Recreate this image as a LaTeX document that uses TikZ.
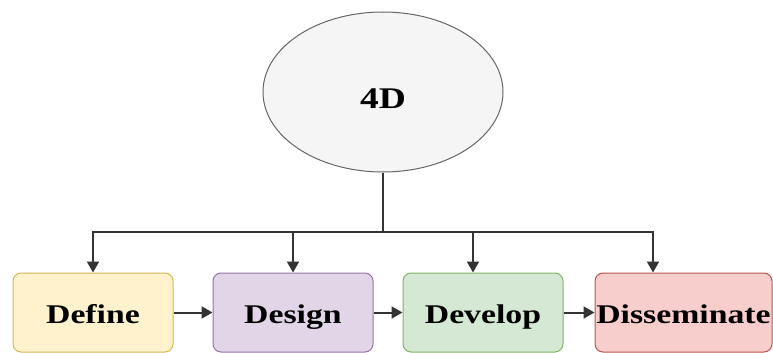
\documentclass[tikz,border=0pt]{standalone}
\usepackage{fontspec}
\setmainfont[FakeStretch=1.25]{Liberation Serif}
\usetikzlibrary{shapes.geometric,arrows.meta}
\definecolor{yellowfill}{HTML}{FFF2CC}\definecolor{yellowline}{HTML}{D6B656}
\definecolor{purplefill}{HTML}{E1D5E7}\definecolor{purpleline}{HTML}{9673A6}
\definecolor{greenfill}{HTML}{D5E8D4}\definecolor{greenline}{HTML}{82B366}
\definecolor{redfill}{HTML}{F8CECC}\definecolor{redline}{HTML}{B85450}
\definecolor{greyfill}{HTML}{F5F5F5}\definecolor{greyline}{HTML}{666666}
\definecolor{wire}{HTML}{333333}
\begin{document}
\begin{tikzpicture}[x=1pt,y=-1pt,
    phase/.style={draw, rounded corners=8pt, line width=1pt, inner sep=0pt,
      minimum height=79pt, text height=21pt, text depth=0pt,
      font=\fontsize{27}{30}\selectfont\bfseries},
    link/.style={draw=wire, line width=2pt, -{Triangle[width=12pt,length=11pt]}}]
	\useasboundingbox (0,0) rectangle (773,353);

            \node[ellipse, draw=greyline, fill=greyfill, line width=1pt, inner sep=0pt,
              minimum width=240pt, minimum height=160pt, text height=32pt, text depth=0pt,
              font=\fontsize{30}{34}\selectfont\bfseries] (model) at (383,92) {4D};

            \node[phase, draw=yellowline, fill=yellowfill, minimum width=160pt] (define) at (93,312.5) {Define};
            \node[phase, draw=purpleline, fill=purplefill, minimum width=160pt] (design) at (293,312.5) {Design};
            \node[phase, draw=greenline, fill=greenfill, minimum width=160pt] (develop) at (483,312.5) {Develop};
            \node[phase, draw=redline, fill=redfill, minimum width=177pt] (dissem) at (683.5,312.5) {Disseminate};

            \coordinate (hub) at (383,232);
            \draw[wire, line width=2pt] (model.south) -- (hub);

            % branches down to each phase
            \draw[link] (hub) -| (define.north);
            \draw[link] (hub) -| (design.north);
            \draw[link] (hub) -| ([xshift=-10pt]develop.north);
            \draw[link] (hub) -| ([xshift=-30.5pt]dissem.north);

            % phase to phase
            \foreach \a/\b in {define/design,design/develop,develop/dissem}{
              \draw[link] (\a.east) -- (\b.west);
            }
        \end{tikzpicture}
\end{document}
